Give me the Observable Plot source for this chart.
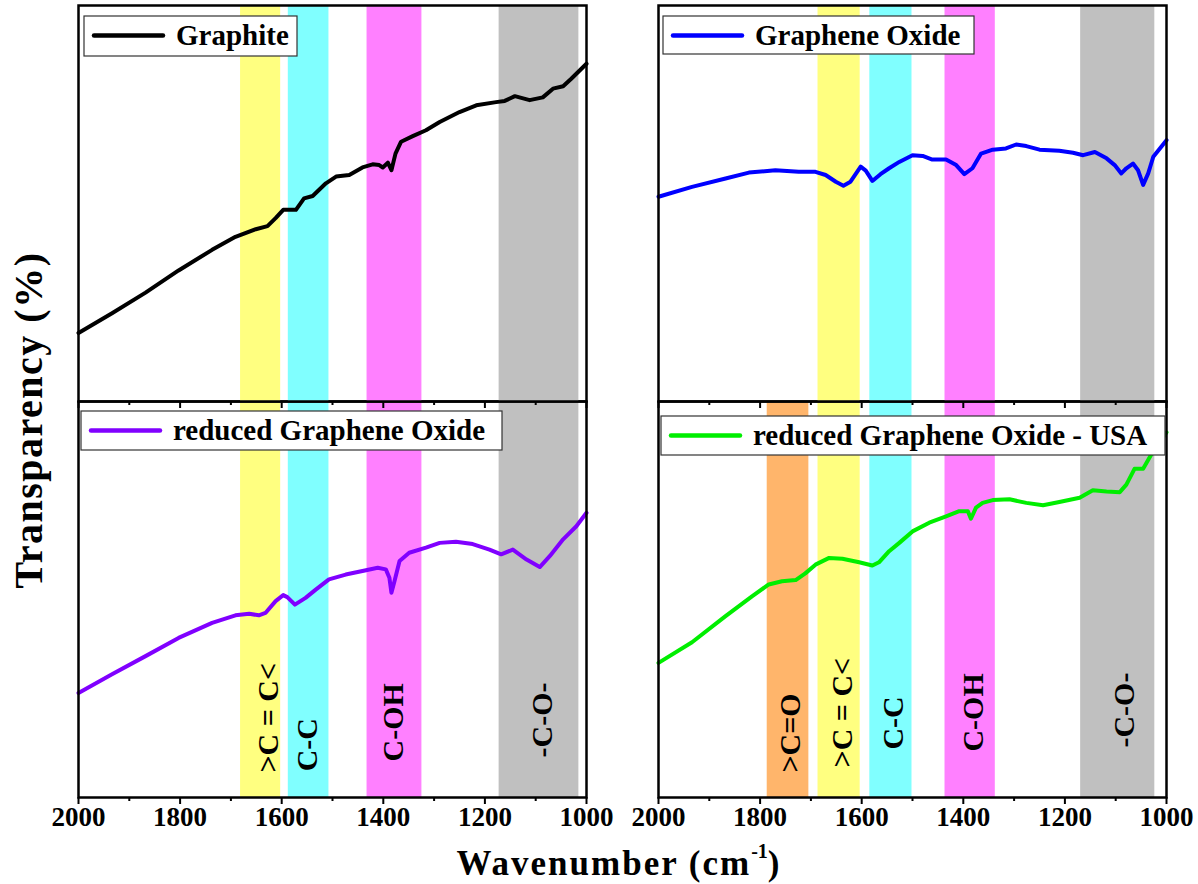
<!DOCTYPE html>
<html>
<head>
<meta charset="utf-8">
<script src="https://cdn.jsdelivr.net/npm/d3@7"></script>
<script src="https://cdn.jsdelivr.net/npm/@observablehq/plot@0.6"></script>
<style>
  html, body { margin: 0; padding: 0; background: #fff; }
  #chart { position: relative; width: 1198px; height: 884px; overflow: hidden; background: #fff;
           font-family: "Liberation Serif", "Times New Roman", Times, serif; }
</style>
</head>
<body>
<div id="chart"></div>
<script>
// ---------- DATA (wavenumber cm^-1, relative transmittance in arbitrary %) ----------
const majorTicks = [2000, 1800, 1600, 1400, 1200, 1000];
const minorTicks = [1900, 1700, 1500, 1300, 1100];

const seriesNames = ["Graphite", "Graphene Oxide", "reduced Graphene Oxide", "reduced Graphene Oxide - USA"];

const graphite = [
  [2000,17.3],[1934,22.3],[1868,27.5],[1803,33.1],[1737,38.3],[1691,41.6],[1651,43.5],
  [1628,44.3],[1612,46.3],[1597,48.4],[1572,48.4],[1556,51.3],[1539,51.9],[1513,55.1],
  [1493,56.8],[1467,57.2],[1441,59.1],[1421,59.9],[1408,59.7],[1401,59.1],[1391,60.3],
  [1384,58.4],[1376,62.6],[1365,65.6],[1342,67.0],[1316,68.5],[1289,70.6],[1250,73.1],
  [1217,74.8],[1178,75.6],[1161,75.9],[1141,77.1],[1112,76.1],[1086,76.8],[1066,79.0],
  [1046,79.6],[1030,81.5],[1000,85.3]
];

const grapheneOxide = [
  [2000,51.7],[1934,54.2],[1868,56.3],[1822,57.8],[1770,58.4],[1724,58.0],[1691,58.0],
  [1671,57.2],[1651,55.5],[1636,54.5],[1622,55.5],[1602,59.3],[1592,58.3],[1579,55.7],
  [1563,57.4],[1546,58.9],[1526,60.5],[1500,62.2],[1480,62.0],[1461,61.1],[1434,61.1],
  [1414,59.7],[1398,57.4],[1382,58.9],[1365,62.6],[1342,63.6],[1316,63.9],[1296,64.9],
  [1276,64.5],[1250,63.6],[1211,63.3],[1184,62.8],[1164,62.2],[1141,63.0],[1118,61.4],
  [1102,59.7],[1089,57.6],[1079,58.9],[1066,60.1],[1056,58.4],[1046,54.7],[1036,57.6],
  [1026,61.8],[1013,63.9],[1000,66.0]
];

const reducedGO = [
  [2000,26.4],[1934,31.1],[1868,35.7],[1803,40.3],[1737,44.1],[1691,46.0],[1664,46.4],
  [1645,46.0],[1632,46.6],[1612,49.6],[1597,51.1],[1589,50.6],[1574,48.7],[1553,50.4],
  [1533,52.5],[1507,55.1],[1474,56.3],[1441,57.2],[1411,58.0],[1395,57.6],[1388,55.5],
  [1384,51.7],[1378,54.6],[1368,59.7],[1349,61.8],[1316,63.1],[1289,64.3],[1257,64.6],
  [1224,64.0],[1191,62.6],[1168,61.4],[1145,62.6],[1118,60.1],[1092,58.2],[1072,61.0],
  [1046,65.2],[1020,68.5],[1000,71.9]
];

const reducedGOUSA = [
  [2000,34.0],[1934,39.2],[1868,45.8],[1816,50.8],[1783,53.8],[1757,54.6],[1730,54.9],
  [1711,56.6],[1691,58.8],[1664,60.5],[1638,60.3],[1605,59.4],[1579,58.6],[1566,59.4],
  [1546,62.2],[1526,64.3],[1500,67.2],[1467,69.4],[1434,71.0],[1408,72.3],[1391,72.3],
  [1385,70.4],[1375,73.2],[1362,74.4],[1342,75.1],[1309,75.3],[1276,74.4],[1243,73.8],
  [1211,74.6],[1171,75.7],[1145,77.6],[1118,77.3],[1092,77.1],[1079,79.0],[1063,83.0],
  [1046,83.0],[1030,86.6],[1000,92.2]
];

// absorption bands (wavenumber ranges)
const leftBandGroups = [">C = C<", "C-C", "C-OH", "-C-O-"];
const leftBandFrom   = [1681, 1587, 1432, 1172];
const leftBandTo     = [1602, 1507, 1324, 1015];

const rightBandGroups = [">C=O", ">C = C<", "C-C", "C-OH", "-C-O-"];
const rightBandFrom   = [1786, 1686, 1584, 1436, 1169];
const rightBandTo     = [1704, 1603, 1501, 1337, 1023];

// ---------- STYLE / LAYOUT ----------
const bandColor = {">C=O": "#ffb56b", ">C = C<": "#ffff80", "C-C": "#80ffff", "C-OH": "#ff80ff", "-C-O-": "#c0c0c0"};
const lineColor = ["#000000", "#0000ff", "#8000ff", "#00ee00"];
const FONT = "'Liberation Serif', 'Times New Roman', Times, serif";

// label placement (x shift in cm^-1, start height in % of panel)
const leftLabelShift = [-15, 3, 2, -6];
const leftLabelStart = [6.3, 6.6, 9.1, 10.1];
const rightLabelShift = [-5, -7, -4, -6, -14];
const rightLabelStart = [6.3, 7.6, 12.1, 11.6, 12.6];

function bandsOf(groups, from, to, skip = []) {
  return groups.map((g, i) => ({group: g, from: from[i], to: to[i]})).filter(d => !skip.includes(d.group));
}
function labelsOf(groups, from, to, shift, start) {
  return groups.map((g, i) => ({group: g, x: (from[i] + to[i]) / 2 + shift[i], y: start[i]}));
}

const chart = document.getElementById("chart");

function panel({series, color, bands, labels, bottom, left, top}) {
  const mt = bottom ? 2 : 5;
  const plotH = 396;
  const mb = bottom ? 42 : 14;
  const svg = Plot.plot({
    width: 548,
    height: mt + plotH + mb,
    marginLeft: 20, marginRight: 20, marginTop: mt, marginBottom: mb,
    x: {domain: [2000, 1000]},
    y: {domain: [0, 100], axis: null},
    color: {type: "identity"},
    style: {background: "transparent", overflow: "visible", fontFamily: FONT, fontWeight: "bold", color: "#000"},
    marks: [
      Plot.rect(bands, {x1: "from", x2: "to", fill: d => bandColor[d.group]}),
      Plot.line(series, {x: d => d[0], y: d => d[1], stroke: color, strokeWidth: 4, strokeLinejoin: "round", strokeLinecap: "round"}),
      labels ? Plot.text(labels, {x: "x", y: "y", text: "group", rotate: -90, textAnchor: "start", lineAnchor: "middle",
        fontSize: 30, fontWeight: "bold", fontFamily: FONT, fill: "#000"}) : null,
      Plot.axisX({ticks: minorTicks, tickSize: 4, tickFormat: () => "", strokeWidth: 2, label: null}),
      Plot.axisX({ticks: majorTicks, tickSize: 7, tickPadding: 2, tickFormat: bottom ? (d => String(d)) : (() => ""),
        strokeWidth: 2, fontSize: 27, fontWeight: "bold", fontFamily: FONT, label: null}),
      Plot.frame({strokeWidth: 2.5, stroke: "#000"})
    ]
  });
  svg.style.position = "absolute";
  svg.style.left = left + "px";
  svg.style.top = (top - mt) + "px";
  chart.appendChild(svg);
}

// bottom panels first, top panels drawn over them (their outward ticks overlap)
panel({series: reducedGO, color: lineColor[2], bottom: true, left: 58, top: 401,
  bands: bandsOf(leftBandGroups, leftBandFrom, leftBandTo),
  labels: labelsOf(leftBandGroups, leftBandFrom, leftBandTo, leftLabelShift, leftLabelStart)});
panel({series: reducedGOUSA, color: lineColor[3], bottom: true, left: 638, top: 401,
  bands: bandsOf(rightBandGroups, rightBandFrom, rightBandTo),
  labels: labelsOf(rightBandGroups, rightBandFrom, rightBandTo, rightLabelShift, rightLabelStart)});
panel({series: graphite, color: lineColor[0], bottom: false, left: 58, top: 5,
  bands: bandsOf(leftBandGroups, leftBandFrom, leftBandTo)});
panel({series: grapheneOxide, color: lineColor[1], bottom: false, left: 638, top: 5,
  bands: bandsOf(rightBandGroups, rightBandFrom, rightBandTo, [">C=O"])});

// ---------- overlay: legends and axis titles ----------
const overlay = d3.create("svg")
  .attr("width", 1198).attr("height", 884)
  .style("position", "absolute").style("left", "0px").style("top", "0px")
  .style("overflow", "visible")
  .attr("font-family", FONT).attr("font-weight", "bold");

const legendBoxes = [
  {i: 0, x: 84,  y: 16,  w: 213, h: 40},
  {i: 1, x: 663, y: 16,  w: 311, h: 38},
  {i: 2, x: 81,  y: 411, w: 421, h: 39},
  {i: 3, x: 661, y: 416, w: 504, h: 39}
];
for (const b of legendBoxes) {
  const g = overlay.append("g");
  g.append("rect").attr("x", b.x).attr("y", b.y).attr("width", b.w).attr("height", b.h)
    .attr("fill", "#fff").attr("stroke", "#333").attr("stroke-width", 1.2);
  g.append("line").attr("x1", b.x + 10).attr("x2", b.x + 79).attr("y1", b.y + 19.5).attr("y2", b.y + 19.5)
    .attr("stroke", lineColor[b.i]).attr("stroke-width", 4.5).attr("stroke-linecap", "round");
  g.append("text").attr("x", b.x + 92).attr("y", b.y + 28.5).attr("font-size", 29).attr("fill", "#000")
    .text(seriesNames[b.i]);
}

overlay.append("text")
  .attr("transform", "translate(42,420) rotate(-90)")
  .attr("text-anchor", "middle").attr("font-size", 40).attr("letter-spacing", 1.5).attr("fill", "#000")
  .text("Transparency (%)");

const xt = overlay.append("text")
  .attr("x", 619).attr("y", 875).attr("text-anchor", "middle")
  .attr("font-size", 35).attr("letter-spacing", 2).attr("fill", "#000");
xt.append("tspan").text("Wavenumber (cm");
xt.append("tspan").attr("font-size", 20).attr("dy", -17).attr("letter-spacing", 0).text("-1");
xt.append("tspan").attr("dy", 17).text(")");

chart.appendChild(overlay.node());
</script>
</body>
</html>
